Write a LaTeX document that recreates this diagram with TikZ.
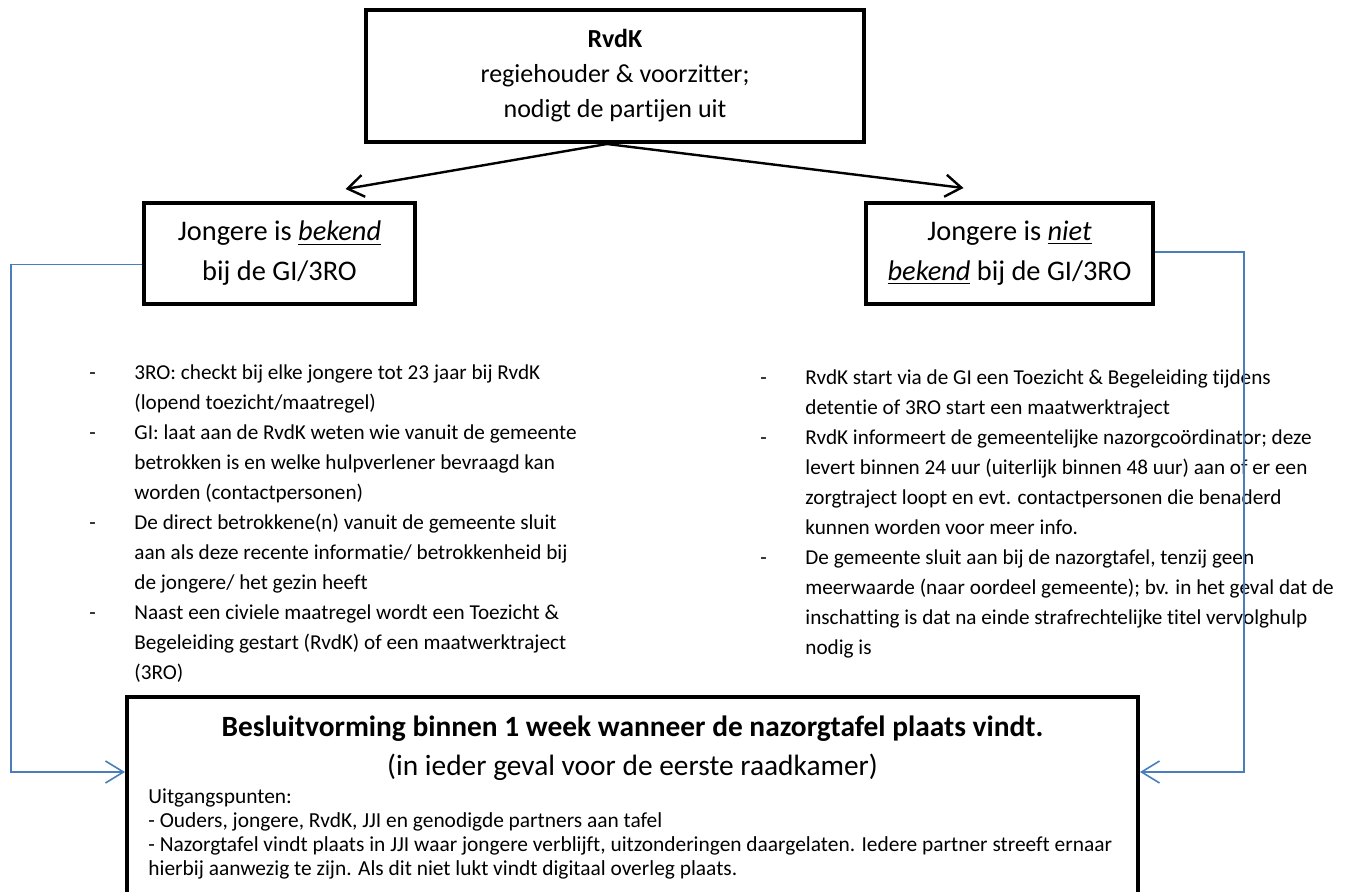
\documentclass[tikz,border=0pt]{standalone}
\usepackage{fontspec}
\setmainfont{Carlito}[Ligatures=NoCommon]
\usetikzlibrary{arrows.meta,positioning}

\definecolor{lijnblauw}{RGB}{74,126,187}

\tikzstyle{kader}=[rectangle,
    line width=2pt,
    draw=black,
    align=center,
    inner sep=0pt]
\tikzstyle{pijl}=[draw,
    line width=1.2pt,
    -{Straight Barb[length=8pt,width=11pt]}]
\tikzstyle{terug}=[draw=lijnblauw,
    line width=0.8pt,
    -{Straight Barb[length=9pt,width=11pt]}]
\tikzstyle{lijst}=[anchor=north west,
    inner sep=0pt,
    font=\fontsize{10.6}{15}\selectfont]

\begin{document}
\begin{tikzpicture}[x=0.5pt,y=-0.5pt]
    \useasboundingbox (0,0) rectangle (1354,892);
    \clip (0,0) rectangle (1354,892);

    \node (rvdk) [kader, minimum width=249pt, minimum height=66pt,
        font=\fontsize{13}{17.5}\selectfont] at (615,76)
        {\textbf{RvdK}\\regiehouder \& voorzitter;\\nodigt de partijen uit};
    \node (bekend) [kader, minimum width=135.5pt, minimum height=50.5pt,
        font=\fontsize{14.2}{20}\selectfont] at (279.5,253.5)
        {Jongere is \underline{\textit{bekend}}\\bij de GI/3RO};
    \node (niet) [kader, minimum width=143.5pt, minimum height=50.5pt,
        font=\fontsize{14.2}{20}\selectfont] at (1009.5,253.5)
        {Jongere is \underline{\textit{niet}}\\\underline{\textit{bekend}} bij de GI/3RO};
    \node (besluit) [kader, anchor=north, minimum width=505.5pt, minimum height=150pt]
        at (632.5,695) {};

    % teksten in het onderste kader
    \node (titel) [below=10pt of besluit.north, align=center, inner sep=0pt,
        font=\fontsize{14.7}{19.5}\selectfont]
        {\textbf{Besluitvorming binnen 1 week wanneer de nazorgtafel plaats vindt.}\\
        (in ieder geval voor de eerste raadkamer)};
    \node (punten) [lijst, align=left, font=\fontsize{10.7}{12}\selectfont] at (148,788)
        {Uitgangspunten:\\
        - Ouders, jongere, RvdK, JJI en genodigde partners aan tafel\\
        - Nazorgtafel vindt plaats in JJI waar jongere verblijft, uitzonderingen daargelaten. Iedere partner streeft ernaar\\
        hierbij aanwezig te zijn. Als dit niet lukt vindt digitaal overleg plaats.};

    \node (lijstbekend) [lijst] at (89,358) {%
        \begin{tabular}{@{}p{22.5pt}@{}l@{}}
        - & 3RO: checkt bij elke jongere tot 23 jaar bij RvdK\\
          & (lopend toezicht/maatregel)\\
        - & GI: laat aan de RvdK weten wie vanuit de gemeente\\
          & betrokken is en welke hulpverlener bevraagd kan\\
          & worden (contactpersonen)\\
        - & De direct betrokkene(n) vanuit de gemeente sluit\\
          & aan als deze recente informatie/ betrokkenheid bij\\
          & de jongere/ het gezin heeft\\
        - & Naast een civiele maatregel wordt een Toezicht \&\\
          & Begeleiding  gestart (RvdK) of een maatwerktraject\\
          & (3RO)
        \end{tabular}};
    \node (lijstniet) [lijst] at (760,363) {%
        \begin{tabular}{@{}p{22.5pt}@{}l@{}}
        - & RvdK start via de GI een Toezicht \& Begeleiding tijdens\\
          & detentie  of 3RO start een maatwerktraject\\
        - & RvdK informeert de gemeentelijke nazorgcoördinator; deze\\
          & levert binnen 24 uur (uiterlijk binnen 48 uur) aan of er een\\
          & zorgtraject loopt en evt. contactpersonen die benaderd\\
          & kunnen worden voor meer info.\\
        - & De gemeente sluit aan bij de nazorgtafel, tenzij geen\\
          & meerwaarde (naar oordeel gemeente); bv. in het geval dat de\\
          & inschatting is dat na einde strafrechtelijke titel vervolghulp\\
          & nodig is
        \end{tabular}};

    \coordinate (railL) at (11,772);
    \coordinate (railR) at (1244,772);

    \draw [pijl] ([xshift=-4pt]rvdk.south) -- ([xshift=33pt,yshift=6pt]bekend.north);
    \draw [pijl] ([xshift=-4pt]rvdk.south) -- ([xshift=-23pt,yshift=6.5pt]niet.north);
    \draw [terug] ([yshift=-5.5pt]bekend.west) -| (railL) -- (railL -| besluit.west);
    \draw [terug] ([yshift=0.75pt]niet.east) -| (railR) -- (railR -| besluit.east);
\end{tikzpicture}
\end{document}
